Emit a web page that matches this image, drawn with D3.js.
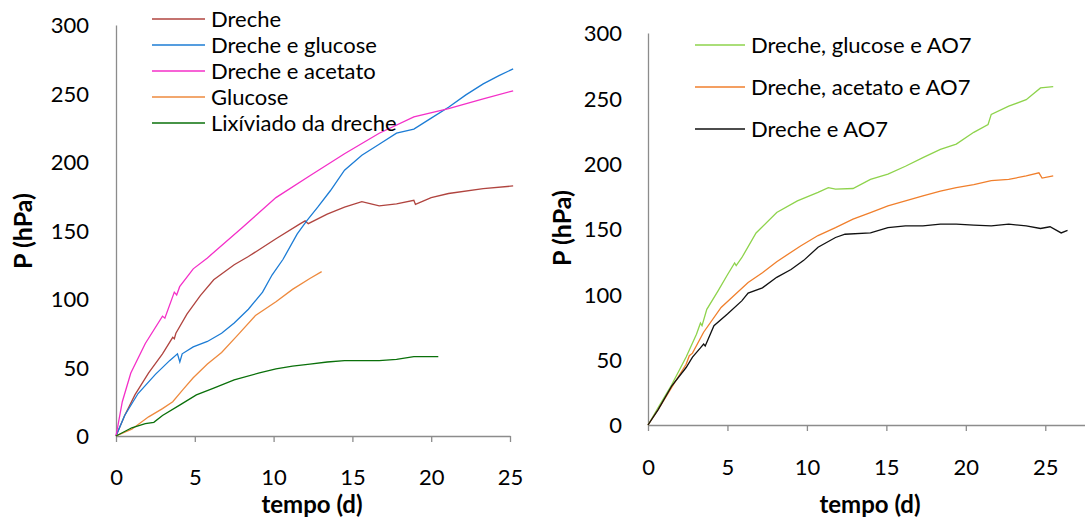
<!DOCTYPE html>
<html>
<head>
<meta charset="utf-8">
<script src="https://cdn.jsdelivr.net/npm/d3@7"></script>
<style>
  body { margin: 0; background: #fff; }
  svg text { font-family: Lato, "Open Sans", sans-serif; fill: #000; }
</style>
</head>
<body>
<svg id="chart" width="1085" height="519"></svg>
<script>
// ---- data: [tempo (d), P (hPa)] ----
var dreche = [[0,0],[0.55,15],[1.2,30],[2.07,46],[2.95,60],[3.6,72],[3.7,71],[3.8,75],[4.5,89],[5.35,102.5],[6.2,114],[7.5,125],[8.4,131],
  [10.15,144],[11.7,155],[12,157],[12.2,155],[13.4,162],[14.5,167],[15.6,171],[16.7,168],[17.8,169.5],[18.9,172],[19,169],[20,174],
  [21.1,177],[23.3,180.5],[25.2,182.5]];
var drecheGlucose = [[0,0],[0.55,15],[1.4,31],[2.5,45],[3.4,55],[3.9,60],[4.05,54],[4.2,60],[4.9,65],[5.8,69],[6.7,75],[7.5,82.5],[8.4,92.5],
  [9.3,105],[9.9,117.5],[10.6,129],[11.5,147.5],[12.1,157],[12.8,167],[13.6,179],[14.5,194],[15.6,205],[16.7,213],[17.8,221],[18.9,224],
  [20,232],[21.1,240],[22.2,249],[23.3,257],[24.3,263],[25.2,268]];
var drecheAcetato = [[0,0],[0.4,25],[0.94,46],[1.86,67.5],[2.95,87.5],[3.1,86],[3.7,105],[3.85,103],[4.04,109],[4.9,122],[5.8,130],[8,152],
  [10.15,174],[12.3,190],[14.5,206],[16.7,221],[18.9,233],[21.1,239],[23.3,246],[25.2,252]];
var glucose = [[0,0],[1,5],[2.07,14],[2.95,20],[3.6,25],[4.26,34],[4.9,42.5],[5.8,52.5],[6.7,61],[7.75,74],[8.85,88],[10.15,98],
  [11.2,107],[12.3,115],[13.05,120]];
var lixiviado = [[0,0],[1,6],[1.86,9],[2.4,10],[2.95,15],[4.04,22.5],[5.1,30],[6.2,35],[7.5,41],[9.1,46],[10.15,49],[11.2,51],
  [12.3,52.5],[13.4,54],[14.5,55],[15.6,55],[16.7,55],[17.8,56],[18.9,58],[20.45,58]];

var drecheGlucoseAO7 = [[0,0],[0.65,13.5],[1.5,31],[2.4,52],[3.05,69.5],[3.3,78],[3.4,76],[3.7,88.5],[4.4,102.5],[5,115],[5.45,124],
  [5.55,122],[5.9,128],[6.8,147],[8.1,162.6],[9.4,171.5],[10.7,178],[11.35,181.6],[11.8,180.5],[12.9,181],[14,188],[15.1,192],
  [16.2,198],[17.3,204.6],[18.4,211],[19.4,215],[20.5,224],[21.4,230],[21.6,237.7],[22.7,244],[23.8,249],[24.7,258],[25.5,259]];
var drecheAcetatoAO7 = [[0,0],[0.65,12],[1.5,29],[2.4,46.5],[2.6,53],[2.8,55],[3.5,71],[4.6,90],[5.5,100],[6.3,109],[7.2,116.5],
  [8.1,125],[9.6,137],[10.7,145],[11.8,151],[12.9,157.5],[14,162.6],[15.1,167.7],[16.2,171.5],[17.3,175.3],[18.4,179],[19.4,181.7],
  [20.5,184],[21.6,187],[22.7,188],[23.8,190.6],[24.6,193],[24.8,189],[25.5,190.6]];
var drecheAO7 = [[0,0],[0.65,12],[1.5,30],[2.4,44],[2.8,52],[3.3,59],[3.5,62],[3.6,60.5],[4.15,76],[5,85],[5.9,95],[6.3,101],[7.2,105],
  [8.1,113],[9,119],[9.8,126],[10.7,136],[11.8,143.5],[12.4,146],[14,147],[15.1,151],[16.2,152.4],[17.3,152.4],[18.4,153.7],
  [19.4,153.7],[20.5,153],[21.6,152.4],[22.7,153.7],[23.8,152.4],[24.7,150.4],[25.3,151.7],[26,147],[26.4,149]];

var xTicks = [0, 5, 10, 15, 20, 25];
var yTicks = [0, 50, 100, 150, 200, 250, 300];

var leftSeries = [
  { name: "Dreche", values: dreche, color: "#B0443F" },
  { name: "Dreche e glucose", values: drecheGlucose, color: "#1C7CD5" },
  { name: "Dreche e acetato", values: drecheAcetato, color: "#F42FC8" },
  { name: "Glucose", values: glucose, color: "#EE8A3E" },
  { name: "Lixíviado da dreche", values: lixiviado, color: "#0A700A" }
];
var rightSeries = [
  { name: "Dreche, glucose e AO7", values: drecheGlucoseAO7, color: "#8ED34C" },
  { name: "Dreche, acetato e AO7", values: drecheAcetatoAO7, color: "#F07F2C" },
  { name: "Dreche e AO7", values: drecheAO7, color: "#111111" }
];

var svg = d3.select("#chart");

function panel(opt) {
  var x = d3.scaleLinear().domain(opt.xDomain).range(opt.xRange);
  var y = d3.scaleLinear().domain([0, 300]).range(opt.yRange);
  var g = svg.append("g");

  // y axis: line only, labels to the left
  var yAxis = d3.axisLeft(y).tickValues(yTicks).tickSize(0).tickPadding(opt.yPad);
  var ya = g.append("g").attr("transform", "translate(" + opt.xRange[0] + ",0)").call(yAxis);
  ya.select(".domain").attr("stroke", "#8c8c8c").attr("stroke-width", 1.3);
  ya.selectAll("text").style("font-size", "22px").attr("dy", "0.36em");

  // x axis with ticks pointing down
  var xAxis = d3.axisBottom(x).tickValues(xTicks).tickSizeInner(6).tickSizeOuter(0).tickPadding(opt.xPad);
  var xa = g.append("g").attr("transform", "translate(0," + opt.yRange[0] + ")").call(xAxis);
  xa.select(".domain").attr("stroke", "#8c8c8c").attr("stroke-width", 1.3);
  xa.selectAll(".tick line").attr("stroke", "#8c8c8c").attr("stroke-width", 1.3);
  xa.selectAll("text").style("font-size", "22px");

  var line = d3.line().x(function(d) { return x(d[0]); }).y(function(d) { return y(d[1]); });
  g.selectAll(".series")
    .data(opt.series)
    .enter()
    .append("path")
    .attr("d", function(s) { return line(s.values); })
    .attr("fill", "none")
    .attr("stroke", function(s) { return s.color; })
    .attr("stroke-width", 1.3);

  // axis titles
  g.append("text")
    .attr("transform", "translate(" + opt.yTitleX + "," + opt.yTitleY + ") rotate(-90)")
    .attr("text-anchor", "middle")
    .style("font-size", "25px").style("font-weight", "bold")
    .text("P (hPa)");
  g.append("text")
    .attr("x", opt.xTitleX).attr("y", opt.xTitleY)
    .attr("text-anchor", "middle")
    .style("font-size", "24px").style("font-weight", "bold")
    .text("tempo (d)");

  // legend
  var lg = g.selectAll(".leg").data(opt.series).enter().append("g")
    .attr("transform", function(s, i) { return "translate(0," + (opt.legY + i * opt.legStep) + ")"; });
  lg.append("line")
    .attr("x1", opt.legX).attr("x2", opt.legX + opt.legW)
    .attr("stroke", function(s) { return s.color; }).attr("stroke-width", 1.3);
  lg.append("text")
    .attr("x", opt.legX + opt.legW + 6).attr("dy", "0.36em")
    .style("font-size", "22px")
    .text(function(s) { return s.name; });
}

panel({
  series: leftSeries,
  xDomain: [0, 25], xRange: [116, 510], yRange: [436, 25],
  yPad: 27, xPad: 27,
  yTitleX: 32, yTitleY: 231, xTitleX: 312, xTitleY: 513,
  legX: 152, legW: 53, legY: 19, legStep: 26
});

panel({
  series: rightSeries,
  xDomain: [0, 27.5], xRange: [648, 1085], yRange: [425, 33],
  yPad: 26, xPad: 28,
  yTitleX: 571, yTitleY: 228, xTitleX: 870, xTitleY: 513,
  legX: 695, legW: 50, legY: 45, legStep: 42
});
</script>
</body>
</html>
